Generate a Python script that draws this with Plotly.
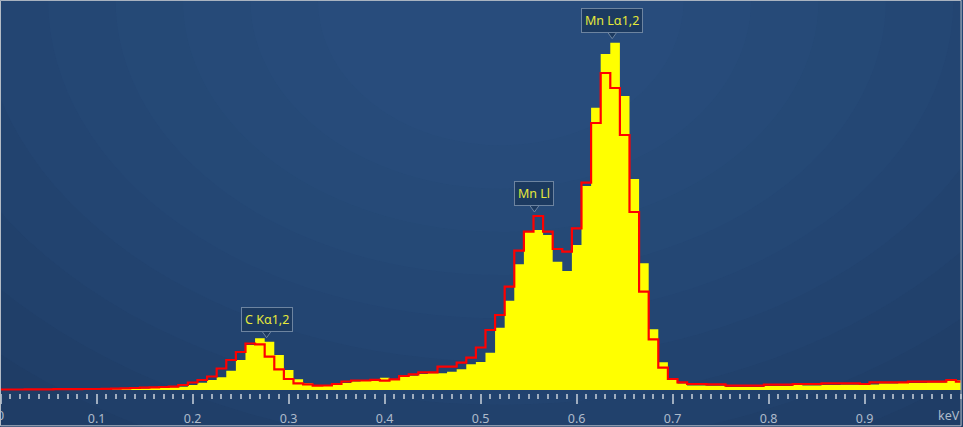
import plotly.graph_objects as go

# EDS spectrum, 0.01 keV channels
energy = [
    0.00, 0.01, 0.02, 0.03, 0.04, 0.05, 0.06, 0.07, 0.08, 0.09,
    0.10, 0.11, 0.12, 0.13, 0.14, 0.15, 0.16, 0.17, 0.18, 0.19,
    0.20, 0.21, 0.22, 0.23, 0.24, 0.25, 0.26, 0.27, 0.28, 0.29,
    0.30, 0.31, 0.32, 0.33, 0.34, 0.35, 0.36, 0.37, 0.38, 0.39,
    0.40, 0.41, 0.42, 0.43, 0.44, 0.45, 0.46, 0.47, 0.48, 0.49,
    0.50, 0.51, 0.52, 0.53, 0.54, 0.55, 0.56, 0.57, 0.58, 0.59,
    0.60, 0.61, 0.62, 0.63, 0.64, 0.65, 0.66, 0.67, 0.68, 0.69,
    0.70, 0.71, 0.72, 0.73, 0.74, 0.75, 0.76, 0.77, 0.78, 0.79,
    0.80, 0.81, 0.82, 0.83, 0.84, 0.85, 0.86, 0.87, 0.88, 0.89,
    0.90, 0.91, 0.92, 0.93, 0.94, 0.95, 0.96, 0.97, 0.98, 0.99,
    1.00,
]

# filled (yellow) spectrum
spectrum_counts = [
    0, 0, 0, 0, 1, 2, 3, 3, 4, 5,
    5, 6, 8, 10, 12, 15, 20, 23, 28, 33,
    50, 73, 100, 127, 193, 300, 450, 517, 483, 350,
    200, 107, 67, 40, 45, 52, 70, 85, 92, 95,
    123, 100, 133, 143, 160, 167, 167, 183, 207, 257,
    280, 373, 623, 893, 1257, 1583, 1600, 1550, 1283, 1190,
    1450, 2040, 2823, 3360, 3473, 2940, 2110, 1267, 607, 277,
    120, 65, 45, 45, 42, 42, 30, 30, 30, 30,
    40, 40, 40, 65, 45, 45, 50, 50, 53, 53,
    70, 55, 65, 65, 75, 70, 70, 75, 75, 95,
    95,
]

# overlay (red) spectrum
overlay_counts = [
    5, 5, 5, 6, 6, 7, 8, 8, 9, 10,
    10, 12, 14, 17, 20, 24, 27, 30, 34, 50,
    75, 100, 135, 215, 300, 380, 465, 457, 333, 207,
    110, 67, 57, 43, 45, 60, 85, 95, 95, 102,
    93, 107, 140, 157, 177, 177, 233, 233, 273, 323,
    425, 600, 750, 1033, 1393, 1583, 1740, 1583, 1410, 1383,
    1617, 2073, 2670, 3170, 3020, 2550, 1780, 983, 507, 223,
    110, 77, 60, 60, 57, 57, 43, 43, 43, 43,
    53, 53, 53, 60, 60, 60, 67, 67, 67, 67,
    60, 77, 77, 77, 77, 83, 83, 83, 83, 100,
    83,
]

tick_values = [0, 0.1, 0.2, 0.3, 0.4, 0.5, 0.6, 0.7, 0.8, 0.9]
tick_labels = ["0", "0.1", "0.2", "0.3", "0.4", "0.5", "0.6", "0.7", "0.8", "0.9"]

peak_names = ["C Kα1,2", "Mn Ll", "Mn Lα1,2"]
peak_energies = [0.277, 0.556, 0.637]

fig = go.Figure()

fig.add_trace(go.Scatter(
    x=energy, y=spectrum_counts, mode="lines", line_shape="hvh",
    line=dict(width=0, color="#ffff00"), fill="tozeroy", fillcolor="#ffff00",
    hoverinfo="skip", showlegend=False,
))
fig.add_trace(go.Scatter(
    x=energy, y=overlay_counts, mode="lines", line_shape="hvh",
    line=dict(width=2.2, color="#ff0000"),
    hoverinfo="skip", showlegend=False,
))

# soft radial glow behind the plot (top centre lighter)
shapes = []
for i in range(9):
    rx = 0.75 - i * 0.07
    ry = 1.25 - i * 0.11
    shapes.append(dict(
        type="circle", xref="paper", yref="paper", layer="below",
        x0=0.52 - rx, x1=0.52 + rx, y0=1.0 - ry, y1=1.0 + ry,
        fillcolor="#3a6a9e", opacity=0.07, line=dict(width=0),
    ))

# peak labels + little pointer
annotations = []
for name, e in zip(peak_names, peak_energies):
    idx = min(range(len(energy)), key=lambda k: abs(energy[k] - e))
    top = max(spectrum_counts[idx], overlay_counts[idx])
    annotations.append(dict(
        x=e, y=top, xref="x", yref="y", text=name, showarrow=False,
        yanchor="bottom", yshift=10,
        font=dict(family="Noto Sans", size=12.5, color="#e6e83a"),
        bgcolor="#1c3a60", bordercolor="#6d84a0", borderwidth=1, borderpad=3,
    ))
    shapes.append(dict(
        type="path", xref="x", yref="y", xsizemode="pixel", ysizemode="pixel",
        xanchor=e, yanchor=top, path="M -5 11 L 5 11 L 0 4 Z",
        fillcolor="#1c3a60", line=dict(color="#6d84a0", width=1),
    ))

axis_font = dict(family="Noto Sans", size=12.5, color="#aebbcb")

# the "0" label sits half outside the picture, plotly would drop it
annotations.append(dict(
    x=0, y=0, xref="x", yref="paper", text="0", showarrow=False,
    xanchor="center", yanchor="middle", yshift=-22, font=axis_font,
))
annotations.append(dict(
    x=1.0, y=0, xref="x", yref="paper", text="keV", showarrow=False,
    xanchor="right", yanchor="middle", xshift=1, yshift=-22, font=axis_font,
))

# thin frame round the whole picture
shapes.append(dict(
    type="rect", xref="paper", yref="paper", x0=0.0005, x1=0.998,
    y0=-34 / 393 + 0.003, y1=0.999, line=dict(color="#b9c0c9", width=1),
))

fig.update_layout(
    width=963, height=427,
    margin=dict(l=0, r=0, t=0, b=34, autoexpand=False),
    paper_bgcolor="#1f3d66",
    plot_bgcolor="rgba(0,0,0,0)",
    shapes=shapes,
    annotations=annotations,
    xaxis=dict(
        range=[-0.0007, 1.0024], showgrid=False, zeroline=False, showline=False,
        automargin=False,
        tickmode="array", tickvals=tick_values, ticktext=tick_labels,
        ticks="outside", ticklen=10, tickwidth=2, tickcolor="#9fadbf",
        ticklabelstandoff=4, tickfont=axis_font,
        minor=dict(tickmode="linear", tick0=0, dtick=0.01, ticks="outside",
                   ticklen=5, tickwidth=2, tickcolor="#9fadbf"),
    ),
    yaxis=dict(range=[-30, 3900], visible=False, fixedrange=True,
               automargin=False),
)

# the page's default body margin would shift the figure by 8px
fig.write_html(
    "out.html",
    config={"displayModeBar": False},
    post_script="document.body.style.margin='0';document.body.style.overflow='hidden';",
)
